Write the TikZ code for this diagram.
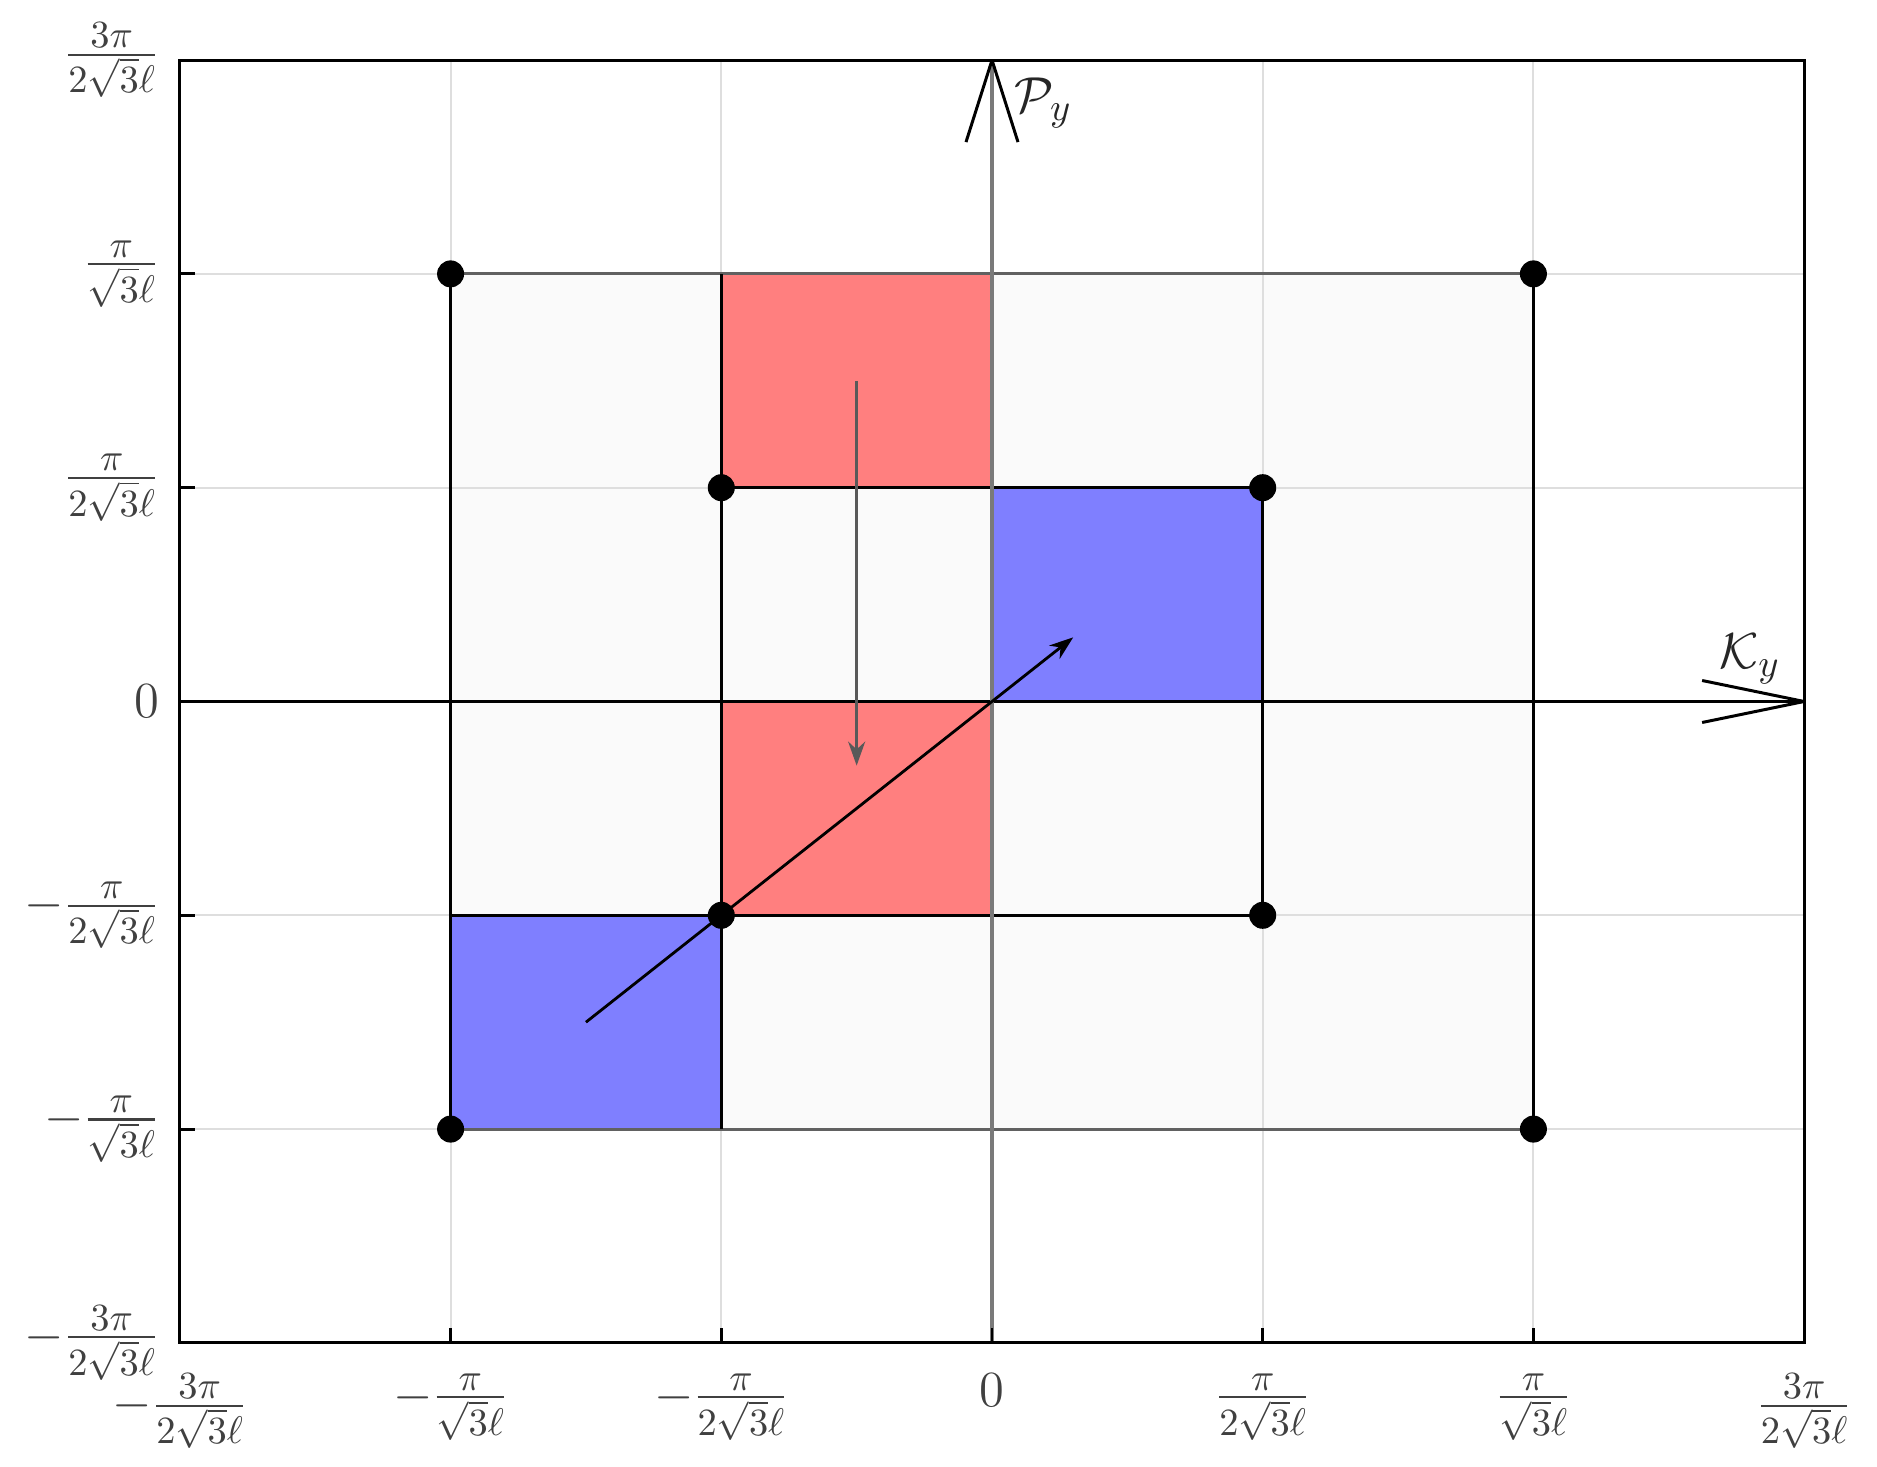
\documentclass[tikz,border=0pt]{standalone}
\usepackage{amsmath}
\usetikzlibrary{arrows.meta}
\definecolor{cellred}{RGB}{255,127,127}
\definecolor{cellblue}{RGB}{127,127,255}
\definecolor{cellgray}{RGB}{250,250,250}
\begin{document}
\begin{tikzpicture}[x=2.707cm,y=2.138cm,
  gridline/.style={draw=black!13,line width=0.6pt},
  edge/.style={draw=black,line width=0.85pt},
  grayedge/.style={draw=black!62,line width=0.9pt},
  vaxis/.style={draw=black!52,line width=1.3pt},
  barb/.style={draw=black,line width=0.85pt},
  dot/.style={circle,fill=black,inner sep=0pt,minimum size=0.27cm},
  lab/.style={inner sep=0pt,text=black!75,font=\fontsize{15}{18}\selectfont},
  axlab/.style={inner sep=0pt,text=black!85,font=\fontsize{15}{18}\selectfont},
  tickmark/.style={draw=black,line width=0.85pt}]
\useasboundingbox (-9.92cm,-7.655cm) rectangle (8.85cm,7.015cm);
% light square
\fill[cellgray] (-2,-2) rectangle (2,2);
% grid
\foreach \v in {-2,-1,1,2} {
  \draw[gridline] (\v,-3) -- (\v,3);
  \draw[gridline] (-3,\v) -- (3,\v);
}
% coloured cells
\fill[cellred] (-1,1) rectangle (0,2);
\fill[cellred] (-1,-1) rectangle (0,0);
\fill[cellblue] (0,0) rectangle (1,1);
\fill[cellblue] (-2,-2) rectangle (-1,-1);
% outlines
\draw[grayedge] (-2,2) -- (2,2);
\draw[grayedge] (-2,-2) -- (2,-2);
\draw[edge] (-2,-2) -- (-2,2);
\draw[edge] (2,-2) -- (2,2);
\draw[edge] (-1,-2) -- (-1,2);
\draw[edge] (-1,1) -- (1,1);
\draw[edge] (-2,-1) -- (1,-1);
\draw[edge] (1,-1) -- (1,1);
% axes
\coordinate (ktip) at (3,0);
\coordinate (ptip) at (0,3);
\draw[edge] (-3,0) -- (ktip);
\draw[vaxis] (0,-3) -- (ptip);
\draw[barb] (ptip) -- ++(-0.26cm,-0.82cm);
\draw[barb] (ptip) -- ++(0.26cm,-0.82cm);
\draw[barb] (ktip) -- ++(-1.02cm,0.21cm);
\draw[barb] (ktip) -- ++(-1.02cm,-0.21cm);
\node[axlab] (plab) at (0.19,2.80) {$\mathcal{P}_y$};
\node[axlab] (klab) at (2.80,0.20) {$\mathcal{K}_y$};
% arrows
\coordinate (va) at (-0.5,1.5);
\coordinate (vb) at (-0.5,-0.3);
\draw[draw=black!65,line width=0.9pt,-{Stealth[length=0.24cm,width=0.17cm]}] (va) -- (vb);
\coordinate (da) at (-1.5,-1.5);
\coordinate (db) at (0.3,0.3);
\draw[draw=black,line width=0.8pt,-{Stealth[length=0.24cm,width=0.17cm]}] (da) -- (db);
% dots
\foreach \p/\n in {{(-2,2)}/d1,{(2,2)}/d2,{(-1,1)}/d3,{(1,1)}/d4,{(-1,-1)}/d5,{(1,-1)}/d6,{(-2,-2)}/d7,{(2,-2)}/d8}
  \node[dot] (\n) at \p {};
% frame
\draw[edge] (-3,-3) rectangle (3,3);
% ticks
\foreach \v in {-2,-1,0,1,2} {
  \draw[tickmark] (-3,\v) -- ++(0.15cm,0);
  \draw[tickmark] (\v,-3) -- ++(0,0.15cm);
}
% left labels
\node[lab,anchor=east] (ly3) at ([xshift=-0.2cm]-3,3) {$\frac{3\pi}{2\sqrt{3}\ell}$};
\node[lab,anchor=east] (ly2) at ([xshift=-0.2cm]-3,2) {$\frac{\pi}{\sqrt{3}\ell}$};
\node[lab,anchor=east] (ly1) at ([xshift=-0.2cm]-3,1) {$\frac{\pi}{2\sqrt{3}\ell}$};
\node[lab,anchor=east] (ly0) at ([xshift=-0.2cm]-3,0) {$0$};
\node[lab,anchor=east] (lym1) at ([xshift=-0.2cm]-3,-1) {$-\frac{\pi}{2\sqrt{3}\ell}$};
\node[lab,anchor=east] (lym2) at ([xshift=-0.2cm]-3,-2) {$-\frac{\pi}{\sqrt{3}\ell}$};
\node[lab,anchor=east] (lym3) at ([xshift=-0.2cm]-3,-3) {$-\frac{3\pi}{2\sqrt{3}\ell}$};
% bottom labels
\node[lab,anchor=north] (lxm3) at ([yshift=-0.3cm]-3,-3) {$-\frac{3\pi}{2\sqrt{3}\ell}$};
\node[lab,anchor=north] (lxm2) at ([yshift=-0.3cm]-2,-3) {$-\frac{\pi}{\sqrt{3}\ell}$};
\node[lab,anchor=north] (lxm1) at ([yshift=-0.3cm]-1,-3) {$-\frac{\pi}{2\sqrt{3}\ell}$};
\node[lab,anchor=north] (lx0) at ([yshift=-0.3cm]0,-3) {$0$};
\node[lab,anchor=north] (lx1) at ([yshift=-0.3cm]1,-3) {$\frac{\pi}{2\sqrt{3}\ell}$};
\node[lab,anchor=north] (lx2) at ([yshift=-0.3cm]2,-3) {$\frac{\pi}{\sqrt{3}\ell}$};
\node[lab,anchor=north] (lx3) at ([yshift=-0.3cm]3,-3) {$\frac{3\pi}{2\sqrt{3}\ell}$};
\end{tikzpicture}
\end{document}
